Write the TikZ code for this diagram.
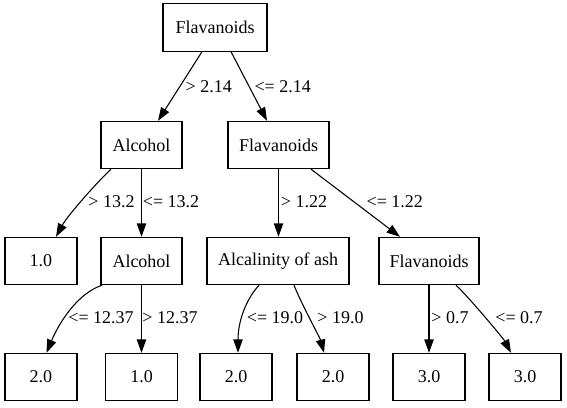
\documentclass[tikz,border=0pt]{standalone}
\usepackage{fontspec}
\setmainfont{Liberation Serif}
\usetikzlibrary{arrows.meta,calc}
\begin{document}
\begin{tikzpicture}[x=0.75pt,y=-0.75pt,
  box/.style={draw,line width=0.8pt,rectangle,minimum height=35.5pt,inner sep=0pt,font=\fontsize{13.5}{16}\selectfont},
  leaf/.style={box,minimum width=54pt},
  edge/.style={line width=0.8pt,-{Triangle[length=10pt,width=7pt]}},
  lbl/.style={font=\fontsize{13.5}{16}\selectfont,inner sep=0pt}]
\useasboundingbox (0,0) rectangle (567,407);
% nodes
\node[box,minimum width=78pt] (root) at (215,27.5) {Flavanoids};
\node[box,minimum width=60.75pt] (alc) at (141.5,145) {Alcohol};
\node[box,minimum width=75.75pt] (flavb) at (278.5,145) {Flavanoids};
\node[leaf] (la) at (41,261) {1.0};
\node[box,minimum width=60.75pt] (alcb) at (141.5,261) {Alcohol};
\node[box,minimum width=106.5pt] (ash) at (278,261) {Alcalinity of ash};
\node[box,minimum width=75pt] (flavc) at (429,261) {Flavanoids};
\node[leaf] (b1) at (41,377) {2.0};
\node[leaf] (b2) at (141.5,377) {1.0};
\node[leaf] (b3) at (236,377) {2.0};
\node[leaf] (b4) at (333,377) {2.0};
\node[leaf] (b5) at (429,377) {3.0};
\node[leaf] (b6) at (525,377) {3.0};
% edges
\draw[edge] ($(root.south)+(-13,0)$) -- ($(alc.north)+(16.5,0)$);
\draw[edge] ($(root.south)+(16,0)$) -- ($(flavb.north)+(-11.5,0)$);
\draw[edge] ($(alc.south)+(-30.5,0)$) .. controls +(-12,11) and +(12,-22) .. ($(la.north)+(15,0)$);
\draw[edge] (alc) -- (alcb);
\draw[edge] (flavb) -- (ash.north -| flavb);
\draw[edge] ($(flavb.south)+(32.5,0)$) -- ($(flavc.north)+(-29,0)$);
\draw[edge] ($(alcb.south)+(-39.5,0)$) .. controls +(-24,8) and +(13,-31) .. ($(b1.north)+(5.5,0)$);
\draw[edge] (alcb) -- (b2);
\draw[edge] ($(ash.south)+(-19,0)$) .. controls +(-12,13) and +(0,-33) .. ($(b3.north)+(2,0)$);
\draw[edge] ($(ash.south)+(16,0)$) .. controls +(8,20) and +(-4,-15) .. ($(b4.north)+(-9,0)$);
\draw[edge] (flavc) -- (b5);
\draw[edge] ($(flavc.south)+(27,0)$) .. controls +(11,10) and +(-8,-15) .. ($(b6.north)+(-14,0)$);
% labels
\node[lbl] (e1) at (208.7,87) {> 2.14};
\node[lbl] (e2) at (282.7,87) {<= 2.14};
\node[lbl] (e3) at (111.5,202) {> 13.2};
\node[lbl] (e4) at (171,202) {<= 13.2};
\node[lbl] (e5) at (304,202) {> 1.22};
\node[lbl] (e6) at (394.8,202) {<= 1.22};
\node[lbl] (e7) at (101,318) {<= 12.37};
\node[lbl] (e8) at (170,318) {> 12.37};
\node[lbl] (e9) at (275,318) {<= 19.0};
\node[lbl] (e10) at (340.5,318) {> 19.0};
\node[lbl] (e11) at (450,318) {> 0.7};
\node[lbl] (e12) at (519,318) {<= 0.7};
\end{tikzpicture}
\end{document}
